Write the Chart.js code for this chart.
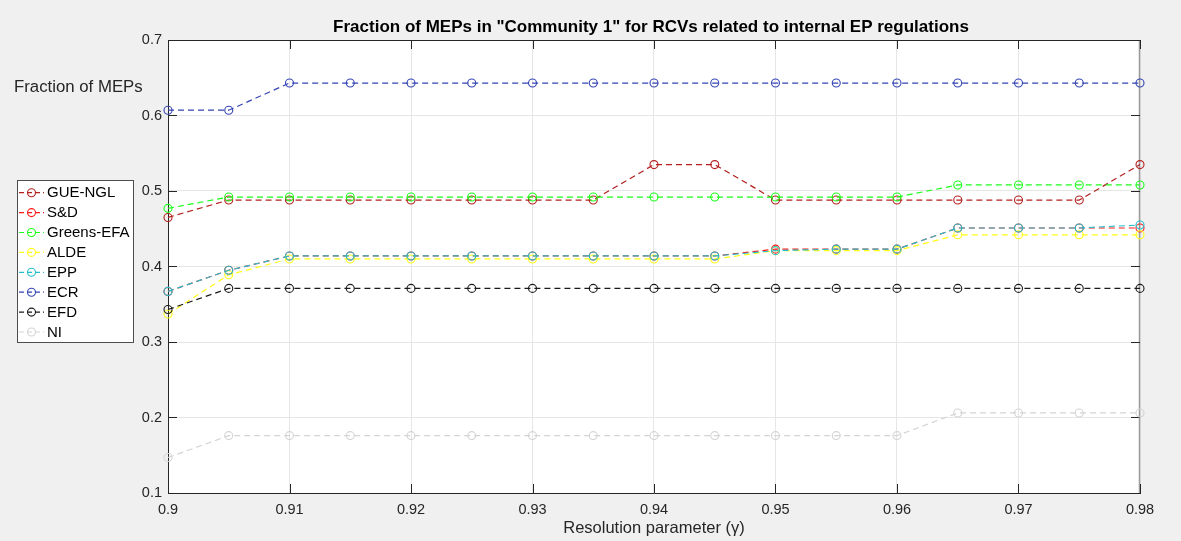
<!DOCTYPE html>
<html>
<head>
<meta charset="utf-8">
<script src="https://cdn.jsdelivr.net/npm/chart.js@4.4.1/dist/chart.umd.min.js"></script>
<style>
  html, body { margin: 0; padding: 0; background: #f0f0f0; }
  #wrap { width: 1181px; height: 541px; }
</style>
</head>
<body>
<div id="wrap"><canvas id="c" width="1181" height="541"></canvas></div>
<script>
// Resolution parameter values (gamma)
const gammas = [0.9, 0.905, 0.91, 0.915, 0.92, 0.925, 0.93, 0.935, 0.94,
                0.945, 0.95, 0.955, 0.96, 0.965, 0.97, 0.975, 0.98];

// Fraction of each group's MEPs found in "Community 1"
const gueNgl     = [0.465, 0.488, 0.488, 0.488, 0.488, 0.488, 0.488, 0.488, 0.535,
                    0.535, 0.488, 0.488, 0.488, 0.488, 0.488, 0.488, 0.535];
const sd         = [0.367, 0.395, 0.414, 0.414, 0.414, 0.414, 0.414, 0.414, 0.414,
                    0.414, 0.423, 0.423, 0.423, 0.451, 0.451, 0.451, 0.451];
const greensEfa  = [0.477, 0.492, 0.492, 0.492, 0.492, 0.492, 0.492, 0.492, 0.492,
                    0.492, 0.492, 0.492, 0.492, 0.508, 0.508, 0.508, 0.508];
const alde       = [0.337, 0.389, 0.410, 0.410, 0.410, 0.410, 0.410, 0.410, 0.410,
                    0.410, 0.421, 0.421, 0.421, 0.442, 0.442, 0.442, 0.442];
const epp        = [0.367, 0.395, 0.414, 0.414, 0.414, 0.414, 0.414, 0.414, 0.414,
                    0.414, 0.421, 0.423, 0.423, 0.451, 0.451, 0.451, 0.455];
const ecr        = [0.607, 0.607, 0.643, 0.643, 0.643, 0.643, 0.643, 0.643, 0.643,
                    0.643, 0.643, 0.643, 0.643, 0.643, 0.643, 0.643, 0.643];
const efd        = [0.343, 0.371, 0.371, 0.371, 0.371, 0.371, 0.371, 0.371, 0.371,
                    0.371, 0.371, 0.371, 0.371, 0.371, 0.371, 0.371, 0.371];
const ni         = [0.147, 0.176, 0.176, 0.176, 0.176, 0.176, 0.176, 0.176, 0.176,
                    0.176, 0.176, 0.176, 0.176, 0.206, 0.206, 0.206, 0.206];

const groupNames = ['GUE-NGL', 'S&D', 'Greens-EFA', 'ALDE', 'EPP', 'ECR', 'EFD', 'NI'];
const groupColors = ['#b3201f', '#ff1a1a', '#1aff1a', '#ffff1a', '#26bfcc', '#3344b3', '#1a1a1a', '#d4d4d4'];

// Axis ticks
const xTickValues = [0.9, 0.91, 0.92, 0.93, 0.94, 0.95, 0.96, 0.97, 0.98];
const xTickLabels = ['0.9', '0.91', '0.92', '0.93', '0.94', '0.95', '0.96', '0.97', '0.98'];
const yTickValues = [0.1, 0.2, 0.3, 0.4, 0.5, 0.6, 0.7];
const yTickLabels = ['0.1', '0.2', '0.3', '0.4', '0.5', '0.6', '0.7'];

const chartTitle = 'Fraction of MEPs in "Community 1" for RCVs related to internal EP regulations';
const yTitle = 'Fraction of MEPs';
const xTitle = 'Resolution parameter (\u03b3)';

const FONT = '"Liberation Sans", Arial, Helvetica, sans-serif';
const AXIS_COLOR = '#262626';

const seriesValues = [gueNgl, sd, greensEfa, alde, epp, ecr, efd, ni];
const datasets = seriesValues.map((vals, i) => ({
  label: groupNames[i],
  data: gammas.map((g, k) => ({ x: g, y: vals[k] })),
  borderColor: groupColors[i],
  borderWidth: 1.2,
  borderDash: [6, 4],
  pointStyle: 'circle',
  pointRadius: 4,
  pointBorderWidth: 1.1,
  pointBorderColor: groupColors[i],
  pointBackgroundColor: 'rgba(0,0,0,0)',
  fill: false,
  tension: 0,
  clip: false,
  order: seriesValues.length - i   // later groups are drawn on top
}));

// Figure background, white axes box, box outline with inward ticks, texts and legend
const figurePlugin = {
  id: 'figure',
  beforeDraw(chart) {
    const { ctx, chartArea: a } = chart;
    ctx.save();
    ctx.fillStyle = '#f0f0f0';
    ctx.fillRect(0, 0, chart.width, chart.height);
    ctx.fillStyle = '#ffffff';
    ctx.fillRect(a.left, a.top, a.right - a.left, a.bottom - a.top);
    ctx.restore();
  },
  beforeDatasetsDraw(chart) {
    const { ctx, chartArea: a, scales } = chart;
    ctx.save();
    ctx.strokeStyle = AXIS_COLOR;
    ctx.lineWidth = 1;
    // top and right outline
    ctx.beginPath();
    ctx.moveTo(a.left, a.top + 0.5);
    ctx.lineTo(a.right, a.top + 0.5);
    ctx.stroke();
    ctx.strokeStyle = '#9a9a9a';
    ctx.lineWidth = 1.5;
    ctx.beginPath();
    ctx.moveTo(a.right - 0.5, a.top);
    ctx.lineTo(a.right - 0.5, a.bottom);
    ctx.stroke();
    // inward ticks
    const tl = 9;
    ctx.strokeStyle = AXIS_COLOR;
    ctx.lineWidth = 1;
    ctx.beginPath();
    scales.x.ticks.forEach(t => {
      const px = Math.round(scales.x.getPixelForValue(t.value)) + 0.5;
      ctx.moveTo(px, a.bottom); ctx.lineTo(px, a.bottom - tl);
      ctx.moveTo(px, a.top); ctx.lineTo(px, a.top + tl);
    });
    scales.y.ticks.forEach(t => {
      const py = Math.round(scales.y.getPixelForValue(t.value)) + 0.5;
      ctx.moveTo(a.left, py); ctx.lineTo(a.left + tl, py);
      ctx.moveTo(a.right, py); ctx.lineTo(a.right - tl, py);
    });
    ctx.stroke();
    ctx.restore();
  },
  afterDraw(chart) {
    const { ctx, chartArea: a } = chart;
    ctx.save();
    // chart title
    ctx.fillStyle = '#000000';
    ctx.font = 'bold 17px ' + FONT;
    ctx.textAlign = 'center';
    ctx.textBaseline = 'middle';
    ctx.fillText(chartTitle, (a.left + a.right) / 2 - 3, 27);
    // y-axis label, written horizontally at top left
    ctx.fillStyle = AXIS_COLOR;
    ctx.font = '16.8px ' + FONT;
    ctx.textAlign = 'left';
    ctx.fillText(yTitle, 14, 87);

    // legend
    const lx = 17, ly = 180, lw = 116, lh = 162;
    ctx.fillStyle = '#ffffff';
    ctx.fillRect(lx, ly, lw, lh);
    ctx.strokeStyle = '#4d4d4d';
    ctx.lineWidth = 1;
    ctx.strokeRect(lx + 0.5, ly + 0.5, lw, lh);
    ctx.font = '15px ' + FONT;
    chart.data.datasets.forEach((ds, i) => {
      const y = 192.7 + i * 19.9;
      ctx.strokeStyle = ds.borderColor;
      ctx.lineWidth = 1.2;
      ctx.setLineDash([5, 3]);
      ctx.beginPath();
      ctx.moveTo(19, y); ctx.lineTo(44, y);
      ctx.stroke();
      ctx.setLineDash([]);
      ctx.lineWidth = 1.1;
      ctx.beginPath();
      ctx.arc(31.5, y, 4, 0, Math.PI * 2);
      ctx.stroke();
      ctx.fillStyle = '#000000';
      ctx.textAlign = 'left';
      ctx.textBaseline = 'middle';
      ctx.fillText(ds.label, 47, y + 0.5);
    });
    ctx.restore();
  }
};

new Chart(document.getElementById('c'), {
  type: 'line',
  data: { datasets },
  options: {
    responsive: false,
    animation: false,
    devicePixelRatio: 1,
    layout: { padding: { top: 40, right: 41, left: 0, bottom: 0 } },
    plugins: {
      legend: { display: false },
      tooltip: { enabled: false },
      title: { display: false }
    },
    scales: {
      x: {
        type: 'linear',
        min: 0.9,
        max: 0.98,
        afterBuildTicks: s => { s.ticks = xTickValues.map(v => ({ value: v })); },
        afterFit: s => { s.height = 48; },
        grid: { color: '#e6e6e6', lineWidth: 1, drawTicks: false },
        border: { display: true, color: AXIS_COLOR, width: 1 },
        ticks: {
          padding: 8,
          color: AXIS_COLOR,
          font: { family: FONT, size: 14.5 },
          maxRotation: 0,
          autoSkip: false,
          callback: (v, i) => xTickLabels[i]
        },
        title: {
          display: true,
          text: xTitle,
          color: AXIS_COLOR,
          font: { family: FONT, size: 16.5 },
          padding: { top: 0, bottom: 3 }
        }
      },
      y: {
        type: 'linear',
        min: 0.1,
        max: 0.7,
        afterBuildTicks: s => { s.ticks = yTickValues.map(v => ({ value: v })); },
        afterFit: s => { s.width = 168; },
        grid: { color: '#e6e6e6', lineWidth: 1, drawTicks: false },
        border: { display: true, color: AXIS_COLOR, width: 1 },
        ticks: {
          padding: 6,
          color: AXIS_COLOR,
          font: { family: FONT, size: 14.5 },
          autoSkip: false,
          callback: (v, i) => yTickLabels[i]
        }
      }
    }
  },
  plugins: [figurePlugin]
});
</script>
</body>
</html>
